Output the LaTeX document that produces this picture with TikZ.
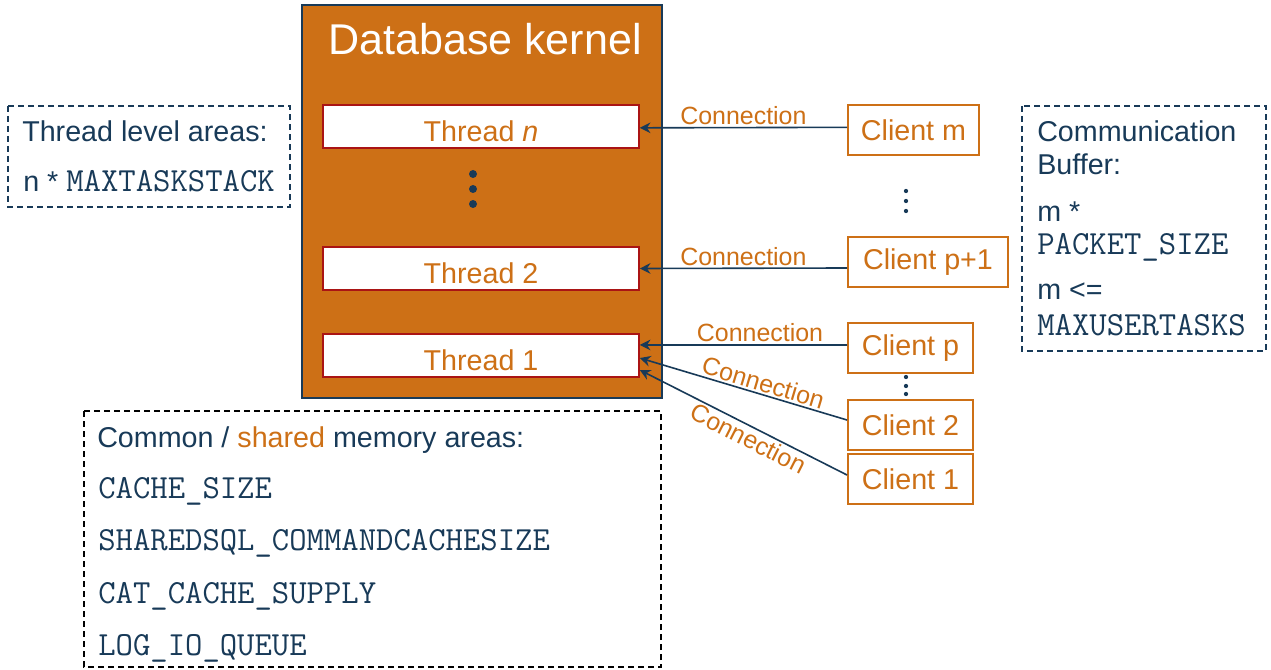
\documentclass[tikz,border=0pt]{standalone}
\usepackage{fontspec}
\setmainfont{Liberation Sans}
\usetikzlibrary{positioning}
\usetikzlibrary{arrows.meta}
\definecolor{navy}{RGB}{24,58,88}
\definecolor{ora}{RGB}{205,112,22}
\definecolor{thrred}{RGB}{170,20,20}
\newcommand{\monofont}{\ttfamily\fontsize{25.3}{27}\selectfont}

\begin{document}
\begin{tikzpicture}[x=0.75pt, y=-0.75pt,
    kernel/.style={draw=navy, line width=1pt, fill=ora, minimum width=270pt, minimum height=294.75pt, inner sep=0pt},
    thread/.style={draw=thrred, line width=1.2pt, fill=white, minimum width=237pt, minimum height=32.25pt,
        text height=22pt, text depth=0pt, text=ora, font=\fontsize{21.5}{24}\selectfont},
    client/.style={draw=ora, line width=1.5pt, fill=white, anchor=west, minimum height=37.5pt,
        text=ora, font=\fontsize{21.5}{24}\selectfont},
    conn/.style={draw=navy, line width=1.2pt, -{Stealth[length=8pt,width=8pt]}},
    lbl/.style={text=ora, font=\fontsize{18.7}{22}\selectfont, inner sep=1.5pt},
    areabox/.style={draw=navy, line width=1pt, dash pattern=on 4.5pt off 3pt},
    txt/.style={anchor=base west, inner sep=0pt, text=navy, font=\fontsize{21.5}{24}\selectfont},
    mono/.style={txt, font=\monofont}]
    \useasboundingbox (0,0) rectangle (1271,670);

    % kernel with its threads
    \node[kernel] (kern) at (482,201.5) {};
    \node[text=white, font=\fontsize{32.3}{36}\selectfont, anchor=base] (title) at (485,55) {Database kernel};
    \node[thread] (tn) at (481,126.5) {Thread \textit{n}};
    \node[thread] (t2) at (481,268.5) {Thread 2};
    \node[thread] (t1) at (481,355.5) {Thread 1};
    \foreach \y in {174,189,204}
        \fill[navy] (473,\y) circle (3pt);

    % clients
    \node[client, minimum width=98.25pt] (cm) at (847,130) {Client m};
    \node[client, minimum width=120pt] (cq) at (847,262) {Client p+1};
    \node[client, minimum width=93.75pt] (cp) at (847,348) {Client p};
    \node[client, minimum width=93.75pt] (c2) at (847,425) {Client 2};
    \node[client, minimum width=93.75pt] (c1) at (847,479) {Client 1};
    \foreach \y in {191,201,211}
        \fill[navy] (906,\y) circle (1.6pt);
    \foreach \y in {377,386,394}
        \fill[navy] (906,\y) circle (1.6pt);

    % connections
    \draw[conn] ([yshift=2pt]cm.west) -- ([yshift=-1pt]tn.east) node[lbl, midway, above] {Connection};
    \draw[conn] ([yshift=-4.5pt]cq.west) -- (t2.east) node[lbl, midway, above] {Connection};
    \draw[conn] ([yshift=2.25pt]cp.west) -- ([yshift=7.9pt]t1.east) node[lbl, pos=0.42, above] {Connection};
    \draw[conn] ([yshift=3.75pt]c2.west) -- ([yshift=-1.9pt]t1.east) node[lbl, pos=0.42, above, sloped] {Connection};
    \draw[conn] ([yshift=3pt]c1.west) -- ([yshift=-10.9pt]t1.east) node[lbl, pos=0.45, below, sloped] {Connection};

    % memory areas
    \draw[areabox] (8,106) rectangle (290,207);
    \node[txt] (tla) at (22,142) {Thread level areas:};
    \node[txt] (tls) at (23,192) {n * {\monofont MAXTASKSTACK}};

    \draw[areabox] (1022,106) rectangle (1266,351);
    \node[txt] (cb1) at (1037,142) {Communication};
    \node[txt] (cb2) at (1037,175) {Buffer:};
    \node[txt] (cb3) at (1037,222) {m *};
    \node[mono] (cb4) at (1037,255) {PACKET\_SIZE};
    \node[txt] (cb5) at (1037,300) {m <=};
    \node[mono] (cb6) at (1037,335) {MAXUSERTASKS};

    \draw[areabox, draw=black] (84,411) rectangle (661,667);
    \node[txt] (cma) at (97,447) {Common / \textcolor{ora}{shared} memory areas:};
    \node[mono] (cs) at (98,498) {CACHE\_SIZE};
    \node[mono] (sq) at (98,550) {SHAREDSQL\_COMMANDCACHESIZE};
    \node[mono] (cc) at (98,603) {CAT\_CACHE\_SUPPLY};
    \node[mono] (lq) at (98,655) {LOG\_IO\_QUEUE};
\end{tikzpicture}
\end{document}
